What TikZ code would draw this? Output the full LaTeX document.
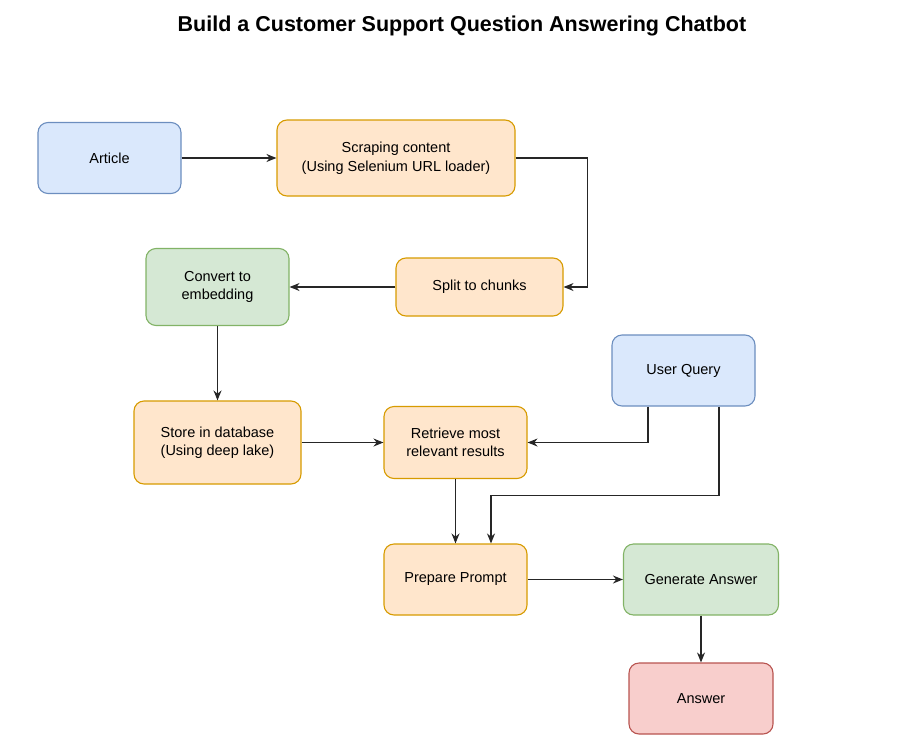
\documentclass[tikz,border=0pt]{standalone}
\usepackage{fontspec}
\setmainfont{Liberation Sans}
\usetikzlibrary{arrows.meta}
\definecolor{bluefill}{HTML}{DAE8FC}
\definecolor{blueline}{HTML}{6C8EBF}
\definecolor{orangefill}{HTML}{FFE6CC}
\definecolor{orangeline}{HTML}{D79B00}
\definecolor{greenfill}{HTML}{D5E8D4}
\definecolor{greenline}{HTML}{82B366}
\definecolor{redfill}{HTML}{F8CECC}
\definecolor{redline}{HTML}{B85450}
\begin{document}
\begin{tikzpicture}[
  x=1pt, y=-1pt,
  box/.style={draw, rounded corners=10pt, align=center, line width=1.1pt, font=\fontsize{14.5}{18.5}\selectfont, inner sep=0pt},
  bluebox/.style={box, fill=bluefill, draw=blueline},
  orangebox/.style={box, fill=orangefill, draw=orangeline},
  greenbox/.style={box, fill=greenfill, draw=greenline},
  redbox/.style={box, fill=redfill, draw=redline},
  arrow/.style={-{Stealth[length=10pt,width=8pt]}, line width=1.2pt, draw=black!85}
]
\useasboundingbox (0,0) rectangle (901,752);
\node[font=\fontsize{21.5}{26}\bfseries\selectfont] at (462,26) (title) {Build a Customer Support Question Answering Chatbot};

\node[bluebox, minimum width=143pt, minimum height=71pt] at (109.5,158) (article) {Article};
\node[orangebox, minimum width=238pt, minimum height=76pt] at (396,158) (scrape) {Scraping content\\(Using Selenium URL loader)};
\node[orangebox, minimum width=167pt, minimum height=58pt] at (479.5,287) (split) {Split to chunks};
\node[greenbox, minimum width=143pt, minimum height=77pt] at (217.5,287) (embed) {Convert to\\embedding};
\node[orangebox, minimum width=167pt, minimum height=83pt] at (217.5,442.5) (store) {Store in database\\(Using deep lake)};
\node[orangebox, minimum width=143pt, minimum height=72pt] at (455.5,442.5) (retrieve) {Retrieve most\\relevant results};
\node[bluebox, minimum width=143pt, minimum height=71pt] at (683.5,370.5) (query) {User Query};
\node[orangebox, minimum width=143pt, minimum height=71pt] at (455.5,579.5) (prompt) {Prepare Prompt};
\node[greenbox, minimum width=155pt, minimum height=71pt] at (701,579.5) (generate) {Generate Answer};
\node[redbox, minimum width=144pt, minimum height=71pt] at (701,698.5) (answer) {Answer};

\draw[arrow] (article) -- (scrape);
\draw[arrow] (scrape.east) -- ++(72,0) |- (split.east);
\draw[arrow] (split) -- (embed);
\draw[arrow] (embed) -- (store);
\draw[arrow] (store) -- (retrieve);
\draw[arrow] ([xshift=-35.5pt]query.south) |- (retrieve.east);
\draw[arrow] ([xshift=35.5pt]query.south) -- ++(0,89) -| ([xshift=35.5pt]prompt.north);
\draw[arrow] (retrieve) -- (prompt);
\draw[arrow] (prompt) -- (generate);
\draw[arrow] (generate) -- (answer);
\end{tikzpicture}
\end{document}
